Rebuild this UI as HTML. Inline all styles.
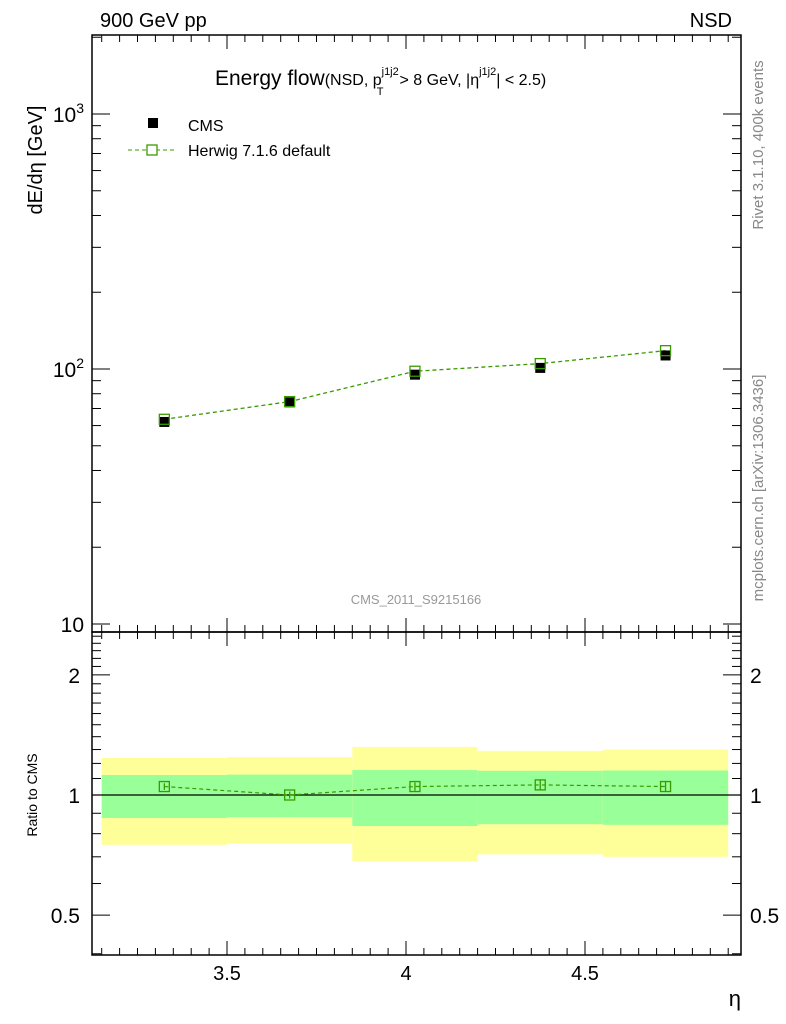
<!DOCTYPE html>
<html><head><meta charset="utf-8"><style>
body{margin:0;background:#fff;}
svg{display:block;font-family:"Liberation Sans",sans-serif;}
</style></head><body>
<svg id="c" width="786" height="1024"></svg>
<script>
const etaCenters=[3.325,3.675,4.025,4.375,4.725];
const binEdges=[3.15,3.5,3.85,4.2,4.55,4.9];
const cmsValues=[62,74,95,101,113];
const herwigValues=[63.5,74.5,98,105,118];
const ratioValues=[1.05,1.0,1.05,1.06,1.05];
const ratioErr=[0.02,0.02,0.025,0.03,0.03];
const yellowHi=[1.238,1.245,1.32,1.29,1.30];
const yellowLo=[0.75,0.755,0.683,0.71,0.70];
const greenHi=[1.122,1.125,1.155,1.15,1.152];
const greenLo=[0.876,0.88,0.836,0.845,0.842];
const xTickLabels=[3.5,4,4.5];
const mainTickVals=[10,100,1000];
const mainTickLabels=["10","10²","10³"];
const ratioTickVals=[0.5,1,2];
const ratioTickLabels=["0.5","1","2"];

const svg=document.getElementById('c');
const NS='http://www.w3.org/2000/svg';
function el(t,a,p){const e=document.createElementNS(NS,t);for(const k in a)e.setAttribute(k,a[k]);(p||svg).appendChild(e);return e;}
const L=92,R=741,T=35,MB=632,RB=955;
const x=v=>406+(v-4)*358;
const yM=v=>369-(Math.log10(v)-2)*255;
const yR=v=>795-Math.log10(v)*399;

for(let i=0;i<etaCenters.length;i++){
 let r=el('rect',{x:x(binEdges[i]),y:yR(yellowHi[i]),width:x(binEdges[i+1])-x(binEdges[i]),height:yR(yellowLo[i])-yR(yellowHi[i]),fill:'#ffff99'});
 
 
 let g=el('rect',{x:x(binEdges[i]),y:yR(greenHi[i]),width:x(binEdges[i+1])-x(binEdges[i]),height:yR(greenLo[i])-yR(greenHi[i]),fill:'#99ff99'});
 
 
}
el('line',{x1:L,x2:R,y1:yR(1),y2:yR(1),stroke:'#000','stroke-width':1.2});

for(const [t,b] of [[T,MB],[MB,RB]]){
 const f=el('rect',{x:L,y:t,width:R-L,height:b-t,fill:'none',stroke:'#000','stroke-width':1.5});
 
 
}
for(let k=60;k<=100;k++){
 const vv=k*0.05; if(x(vv)<L||x(vv)>R)continue;
 const major=(k%10==0); const len=major?14:7;
 for(const yy of [MB,RB]){el('line',{x1:x(vv),x2:x(vv),y1:yy,y2:yy-len,stroke:'#000'});}
 el('line',{x1:x(vv),x2:x(vv),y1:T,y2:T+len,stroke:'#000'});
 el('line',{x1:x(vv),x2:x(vv),y1:MB,y2:MB+len,stroke:'#000'});
}
xTickLabels.forEach(v=>{const t=el('text',{x:x(v),y:980,'text-anchor':'middle','font-size':20});t.textContent=v;});
const xt=el('text',{x:741,y:1006,'text-anchor':'end','font-size':22});xt.textContent='η';

for(let d=1;d<=3;d++)for(let m=1;m<=9;m++){
 const v=m*Math.pow(10,d);const y=yM(v);if(y<T||y>MB)continue;
 const len=m==1?18:9;
 el('line',{x1:L,x2:L+len,y1:y,y2:y,stroke:'#000'});el('line',{x1:R,x2:R-len,y1:y,y2:y,stroke:'#000'});
}
mainTickVals.forEach((v,i)=>{const t=el('text',{x:84,y:yM(v)+8,'text-anchor':'end','font-size':21});
 if(i==0)t.textContent='10';else{t.textContent='10';const s=el('tspan',{dy:-9,'font-size':14},t);s.textContent=String(i+1);}});
for(let k=4;k<=26;k++){const vv=k/10;const y=yR(vv);if(y<MB||y>RB)continue;
 const major=(vv==0.5||vv==1||vv==2);const len=major?18:9;
 el('line',{x1:L,x2:L+len,y1:y,y2:y,stroke:'#000'});el('line',{x1:R,x2:R-len,y1:y,y2:y,stroke:'#000'});}
ratioTickVals.forEach((v,i)=>{for(const [xx,a] of [[80,'end'],[750,'start']]){const t=el('text',{x:xx,y:yR(v)+8,'text-anchor':a,'font-size':21});t.textContent=ratioTickLabels[i];}});

let pts=etaCenters.map((e,i)=>x(e)+','+yM(herwigValues[i])).join(' ');
const hl=el('polyline',{points:pts,fill:'none',stroke:'#3a9a00','stroke-width':1.3,'stroke-dasharray':'4,3'});

etaCenters.forEach((e,i)=>{
 const c=el('rect',{x:x(e)-5,y:yM(cmsValues[i])-5,width:10,height:10,fill:'#000'});
 
 const h=el('rect',{x:x(e)-5,y:yM(herwigValues[i])-5,width:10,height:10,fill:'none',stroke:'#3a9a00','stroke-width':1.3});
 
});
pts=etaCenters.map((e,i)=>x(e)+','+yR(ratioValues[i])).join(' ');
el('polyline',{points:pts,fill:'none',stroke:'#3a9a00','stroke-width':1.2,'stroke-dasharray':'4,3'});
etaCenters.forEach((e,i)=>{
 el('line',{x1:x(e),x2:x(e),y1:yR(ratioValues[i]+ratioErr[i]),y2:yR(ratioValues[i]-ratioErr[i]),stroke:'#3a9a00','stroke-width':1.3});
 const h=el('rect',{x:x(e)-5,y:yR(ratioValues[i])-5,width:10,height:10,fill:'none',stroke:'#3a9a00','stroke-width':1.3});
 
});
</script>
<svg width="786" height="1024" style="position:absolute;left:0;top:0;font-family:'Liberation Sans',sans-serif">
<text x="100" y="27" font-size="20">900 GeV pp</text>
<text x="732" y="27" font-size="20" text-anchor="end">NSD</text>
<text x="215" y="85" font-size="21">Energy flow<tspan font-size="16">(NSD, p</tspan><tspan font-size="11" dy="-10">j1j2</tspan><tspan font-size="11" dx="-22" dy="20">T</tspan><tspan font-size="16" dx="16" dy="-10">&gt; 8 GeV, |η</tspan><tspan font-size="11" dy="-10">j1j2</tspan><tspan font-size="16" dy="10">| &lt; 2.5)</tspan></text>
<rect x="148" y="118" width="10" height="10" fill="#000"/>
<text x="188" y="131" font-size="16">CMS</text>
<line x1="128" x2="176" y1="150" y2="150" stroke="#3a9a00" stroke-dasharray="4,3"/>
<rect x="147" y="145" width="10" height="10" fill="#fff" stroke="#3a9a00" stroke-width="1.3"/>
<text x="188" y="156" font-size="16">Herwig 7.1.6 default</text>
<text x="416" y="604" font-size="13" fill="#999" text-anchor="middle">CMS_2011_S9215166</text>
<text transform="translate(42,160) rotate(-90)" font-size="20" text-anchor="middle">dE/dη [GeV]</text>
<text transform="translate(37,795) rotate(-90)" font-size="14" text-anchor="middle">Ratio to CMS</text>
<text transform="translate(763,145) rotate(-90)" font-size="15" fill="#888" text-anchor="middle">Rivet 3.1.10,  400k events</text>
<text transform="translate(763,488) rotate(-90)" font-size="15" fill="#888" text-anchor="middle">mcplots.cern.ch [arXiv:1306.3436]</text>
</svg>
</body></html>
